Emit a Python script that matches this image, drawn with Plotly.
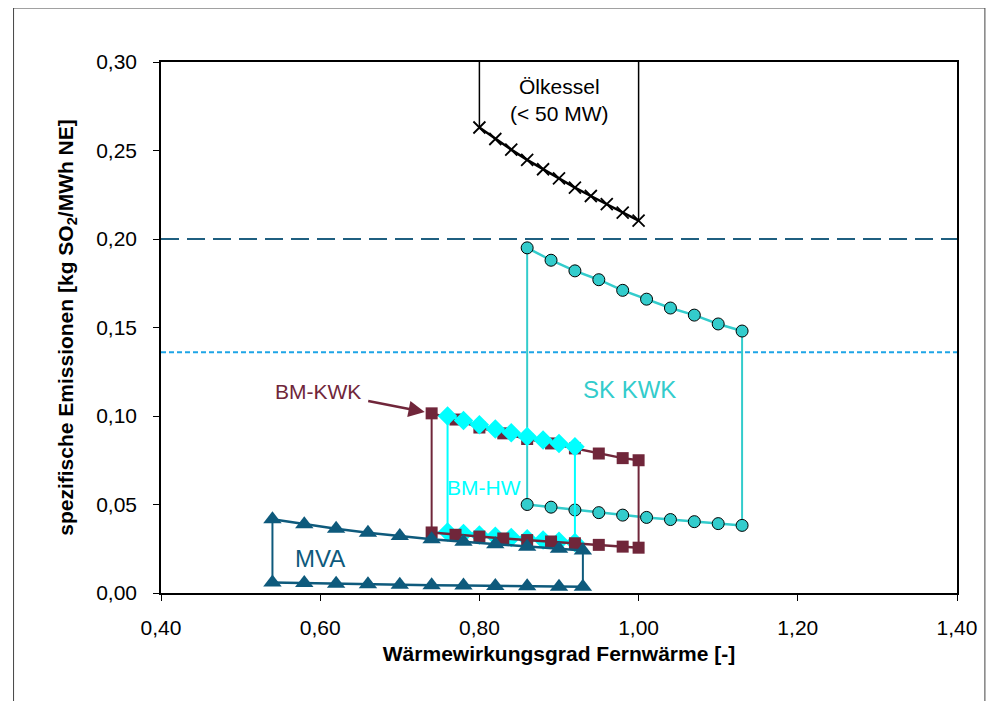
import plotly.graph_objects as go

# ---------------- data ----------------
x_range = [0.40, 1.40]
y_range = [0.00, 0.30]

olk_x = [0.80, 0.82, 0.84, 0.86, 0.88, 0.90, 0.92, 0.94, 0.96, 0.98, 1.00]
olk_y = [0.263, 0.2565, 0.2505, 0.2447, 0.2394, 0.2342, 0.229, 0.2243, 0.2197, 0.2149, 0.2104]

sk_x = [0.86, 0.89, 0.92, 0.95, 0.98, 1.01, 1.04, 1.07, 1.10, 1.13]
sk_hi = [0.195, 0.188, 0.182, 0.177, 0.171, 0.166, 0.161, 0.157, 0.152, 0.148]
sk_lo = [0.050, 0.0485, 0.0469, 0.0454, 0.0440, 0.0427, 0.0415, 0.0403, 0.0392, 0.0382]

bmk_x = [0.74, 0.77, 0.80, 0.83, 0.86, 0.89, 0.92, 0.95, 0.98, 1.00]
bmk_hi = [0.1015, 0.098, 0.0935, 0.0902, 0.087, 0.0845, 0.0817, 0.0788, 0.0762, 0.0750]
bmk_lo = [0.0342, 0.0329, 0.0319, 0.0308, 0.0299, 0.0291, 0.0281, 0.0272, 0.0262, 0.0256]

bmh_x = [0.76, 0.78, 0.80, 0.82, 0.84, 0.86, 0.88, 0.90, 0.92]
bmh_hi = [0.100, 0.0974, 0.0950, 0.0927, 0.0905, 0.0884, 0.0864, 0.0844, 0.0826]
bmh_lo = [0.0345, 0.0336, 0.0328, 0.0320, 0.0313, 0.0306, 0.0299, 0.0292, 0.0286]

mva_x = [0.54, 0.58, 0.62, 0.66, 0.70, 0.74, 0.78, 0.82, 0.86, 0.90, 0.93]
mva_hi = [0.0417, 0.0388, 0.0363, 0.0341, 0.0322, 0.0304, 0.0289, 0.0275, 0.0262, 0.0250, 0.0240]
mva_lo = [0.0060, 0.0056, 0.0052, 0.0049, 0.0046, 0.0044, 0.0042, 0.0040, 0.0038, 0.0036, 0.0035]

limit_hi = 0.20
limit_lo = 0.136

# ---------------- styles ----------------
FONT = "Liberation Sans, Arial, sans-serif"
C_MAROON = "#70263A"
C_CYAN = "#00FFFF"
C_TURQ = "#33CCCC"
C_BLUE = "#0E5A7C"
C_LBLUE = "#1EA5E6"

fig = go.Figure()

def vline(x, y0, y1, color, width=2):
    fig.add_trace(go.Scatter(x=[x, x], y=[y0, y1], mode="lines",
                             line=dict(color=color, width=width),
                             hoverinfo="skip", showlegend=False, cliponaxis=False))

# horizontal reference lines
fig.add_trace(go.Scatter(x=x_range, y=[limit_hi, limit_hi], mode="lines",
                         line=dict(color="#1F5F80", width=2, dash="18px,8px"),
                         showlegend=False))
fig.add_trace(go.Scatter(x=x_range, y=[limit_lo, limit_lo], mode="lines",
                         line=dict(color=C_LBLUE, width=2, dash="5px,3px"),
                         showlegend=False))

# Ölkessel
vline(olk_x[0], olk_y[0], y_range[1], "black", 1.5)
vline(olk_x[-1], olk_y[-1], y_range[1], "black", 1.5)
fig.add_trace(go.Scatter(x=olk_x, y=olk_y, mode="lines+markers",
                         line=dict(color="black", width=2.5),
                         marker=dict(symbol="x-thin-open", size=12,
                                     line=dict(color="black", width=1.8)),
                         showlegend=False))

# SK KWK
vline(sk_x[0], sk_lo[0], sk_hi[0], C_TURQ, 2)
vline(sk_x[-1], sk_lo[-1], sk_hi[-1], C_TURQ, 2)
for ys in (sk_hi, sk_lo):
    fig.add_trace(go.Scatter(x=sk_x, y=ys, mode="lines+markers",
                             line=dict(color=C_TURQ, width=2.5),
                             marker=dict(symbol="circle", size=12, color=C_TURQ,
                                         line=dict(color="black", width=1)),
                             showlegend=False))

# BM-HW lower (behind BM-KWK lower)
vline(bmh_x[0], bmh_lo[0], bmh_hi[0], C_CYAN, 2)
vline(bmh_x[-1], bmh_lo[-1], bmh_hi[-1], C_CYAN, 2)
fig.add_trace(go.Scatter(x=bmh_x, y=bmh_lo, mode="lines+markers",
                         line=dict(color=C_CYAN, width=2.5),
                         marker=dict(symbol="diamond", size=15, color=C_CYAN),
                         showlegend=False))

# BM-KWK
vline(bmk_x[0], bmk_lo[0], bmk_hi[0], C_MAROON, 2)
vline(bmk_x[-1], bmk_lo[-1], bmk_hi[-1], C_MAROON, 2)
for ys in (bmk_lo, bmk_hi):
    fig.add_trace(go.Scatter(x=bmk_x, y=ys, mode="lines+markers",
                             line=dict(color=C_MAROON, width=2.5),
                             marker=dict(symbol="square", size=12, color=C_MAROON),
                             showlegend=False))

# BM-HW upper (in front of BM-KWK upper)
fig.add_trace(go.Scatter(x=bmh_x, y=bmh_hi, mode="lines+markers",
                         line=dict(color=C_CYAN, width=2.5),
                         marker=dict(symbol="diamond", size=15, color=C_CYAN),
                         showlegend=False))

# MVA
vline(mva_x[0], mva_lo[0], mva_hi[0], C_BLUE, 2)
vline(mva_x[-1], mva_lo[-1], mva_hi[-1], C_BLUE, 2)
for ys in (mva_hi, mva_lo):
    fig.add_trace(go.Scatter(x=mva_x, y=ys, mode="lines+markers",
                             line=dict(color=C_BLUE, width=2.5),
                             marker=dict(symbol="triangle-up", size=16, color=C_BLUE),
                             cliponaxis=False, showlegend=False))

# ---------------- annotations ----------------
ann = [
    dict(x=0.901, y=0.2788, text="Ölkessel<br>(< 50 MW)", color="black", size=21),
    dict(x=0.988, y=0.1150, text="SK KWK", color=C_TURQ, size=24),
    dict(x=0.806, y=0.0595, text="BM-HW", color=C_CYAN, size=21),
    dict(x=0.600, y=0.0195, text="MVA", color=C_BLUE, size=24),
]
for a in ann:
    fig.add_annotation(x=a["x"], y=a["y"], text=a["text"], showarrow=False,
                       font=dict(family=FONT, size=a["size"], color=a["color"]),
                       xanchor="center", yanchor="middle")

# BM-KWK label with arrow to the first BM-KWK point
fig.add_annotation(x=bmk_x[0], y=bmk_hi[0], ax=0.597, ay=0.1140,
                   axref="x", ayref="y", text="BM-KWK", showarrow=True,
                   font=dict(family=FONT, size=21, color=C_MAROON),
                   arrowhead=2, arrowsize=1.3, arrowwidth=2.5, arrowcolor=C_MAROON,
                   standoff=7, startstandoff=6)

# ---------------- layout ----------------
# The page adds an 8px body margin, so the figure is 16px smaller than the window.
W, H = 981, 693
OFF = 8
ML, MR, MT, MB = 161 - OFF, 29, 62 - OFF, 108
pw, ph = W - ML - MR, H - MT - MB
# outer frame of the chart area
fig.add_shape(type="rect", xref="paper", yref="paper",
              x0=(13 - OFF - ML) / pw, x1=(W - 1 - ML) / pw,
              y0=(MT + ph - (H + 20)) / ph, y1=(MT + ph - (7 - OFF + 1)) / ph,
              line=dict(color="#444444", width=1), layer="below")

axis_common = dict(showgrid=False, zeroline=False, showline=True, mirror=True,
                   linecolor="black", linewidth=1.5, ticks="outside", ticklen=6,
                   tickcolor="black", tickwidth=1,
                   tickfont=dict(family=FONT, size=21, color="black"))

fig.update_layout(
    width=W, height=H,
    margin=dict(l=ML, r=MR, t=MT, b=MB),
    paper_bgcolor="white", plot_bgcolor="white",
    separators=",.",
    font=dict(family=FONT, color="black"),
    xaxis=dict(range=x_range, dtick=0.2, tick0=0.4, tickformat=".2f",
               ticklabelstandoff=9,
               title=dict(text="Wärmewirkungsgrad Fernwärme [-]", standoff=8,
                          font=dict(family=FONT, size=21, color="black", weight="bold")),
               **axis_common),
    yaxis=dict(range=y_range, dtick=0.05, tick0=0, tickformat=".2f",
               ticklabelstandoff=12,
               title=dict(text="spezifische Emissionen [kg SO<sub>2</sub>/MWh NE]", standoff=17,
                          font=dict(family=FONT, size=21, color="black", weight="bold")),
               **axis_common),
)

fig.write_html("out.html")
